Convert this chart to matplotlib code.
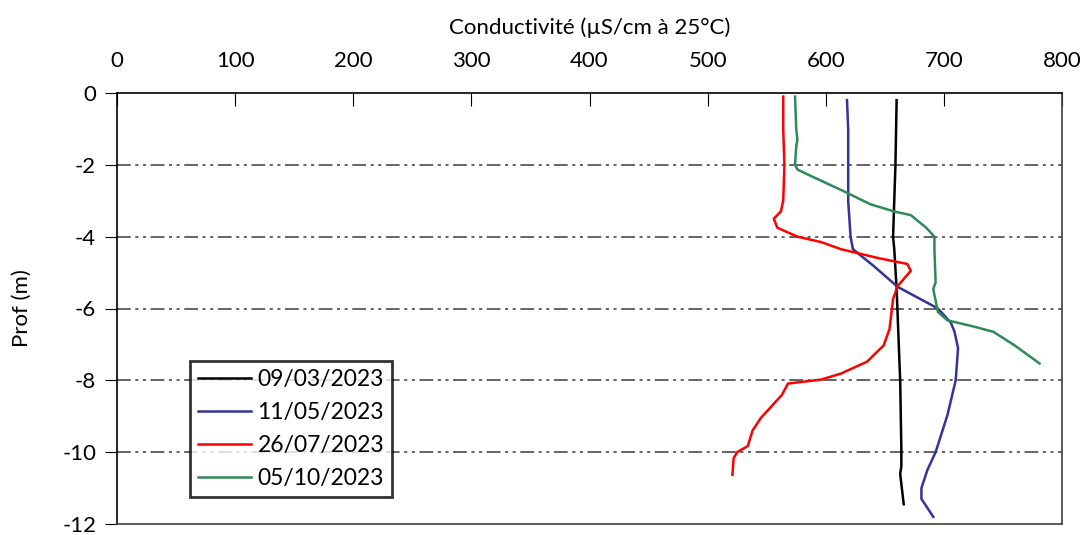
import numpy as np
import matplotlib.pyplot as plt

plt.rcParams['font.family'] = ['Lato', 'DejaVu Sans']
plt.rcParams['axes.unicode_minus'] = False

# depth (m) and conductivity (uS/cm at 25C) read from the profiles
depth_0903 = [-0.2, -2.0, -4.0, -4.35, -5.45, -8.0, -9.9, -10.4, -10.6, -11.45]
cond_0903 = [660, 659, 657, 658, 660, 663, 664, 664, 663, 666]

depth_1105 = [-0.2, -1.0, -2.0, -3.0, -4.0, -4.35, -4.8, -5.4, -6.0, -6.4, -6.65, -7.1,
              -8.0, -8.97, -10.0, -10.5, -11.0, -11.3, -11.8]
cond_1105 = [618, 619, 619, 619, 621, 623, 640, 661, 695, 706, 709, 712,
             710, 703, 693, 686, 681, 681, 691]

depth_2607 = [-0.1, -1.0, -2.0, -3.0, -3.3, -3.5, -3.75, -4.0, -4.15, -4.35, -4.6, -4.76, -4.95,
              -5.37, -5.73, -6.57, -7.03, -7.48, -7.81, -7.98, -8.09, -8.4, -9.05, -9.4,
              -9.83, -10.0, -10.17, -10.63]
cond_2607 = [564, 564, 565, 564, 562, 556, 559, 576, 596, 613, 645, 669, 672,
             661, 657, 654, 649, 635, 613, 596, 568, 563, 545, 538,
             534, 525, 522, 521]

depth_0510 = [-0.1, -1.0, -1.3, -1.5, -2.0, -2.13, -2.35, -2.7, -3.1, -3.3, -3.4, -3.75, -4.0,
              -4.35, -5.27, -5.46, -6.1, -6.33, -6.5, -6.65, -7.03, -7.53]
cond_0510 = [574, 575, 576, 575, 574, 576, 590, 613, 638, 658, 672, 685, 692,
             692, 693, 691, 695, 703, 725, 742, 760, 781]

series = [
    ("09/03/2023", cond_0903, depth_0903, "black"),
    ("11/05/2023", cond_1105, depth_1105, "#333399"),
    ("26/07/2023", cond_2607, depth_2607, "#ff0000"),
    ("05/10/2023", cond_0510, depth_0510, "#2e8b57"),
]

fig = plt.figure(figsize=(10.85, 5.35), dpi=100)
ax = fig.add_axes([117 / 1085, 1 - 524 / 535, (1062 - 117) / 1085, (524 - 93) / 535])

for lab, x, y, c in series:
    ax.plot(x, y, color=c, lw=1.8, label=lab)

ax.set_xlim(0, 800)
ax.set_ylim(-12, 0)
ax.set_xticks(np.arange(0, 801, 100))
ax.set_yticks(np.arange(-12, 1, 2))
ax.xaxis.tick_top()
ax.xaxis.set_label_position('top')
ax.tick_params(axis='x', direction='in', length=9, labelsize=16, pad=16, top=True, bottom=False)
ax.tick_params(axis='y', direction='out', length=9, labelsize=16, pad=6)
ax.set_xlabel("Conductivité (µS/cm à 25°C)", fontsize=16, labelpad=12)
ax.set_ylabel("Prof (m)", fontsize=16, labelpad=22)

for v in [-2, -4, -6, -8, -10]:
    ax.axhline(v, color='#3a3a3a', lw=1.1, ls=(0, (9, 3, 2, 3, 2, 3)), zorder=0)

for s in ax.spines.values():
    s.set_color('#404040')
    s.set_linewidth(1.2)
ax.spines['top'].set_color('black')
ax.spines['left'].set_color('black')

leg = ax.legend(loc='upper left', bbox_to_anchor=((190 - 117) / 945, (524 - 361) / 431),
                fontsize=16.5, frameon=True, fancybox=False, borderaxespad=0,
                handlelength=2.3, handletextpad=0.3, labelspacing=0.52, borderpad=0.35)
leg.get_frame().set_edgecolor('black')
leg.get_frame().set_linewidth(2)

fig.savefig("out.png", dpi=100)
